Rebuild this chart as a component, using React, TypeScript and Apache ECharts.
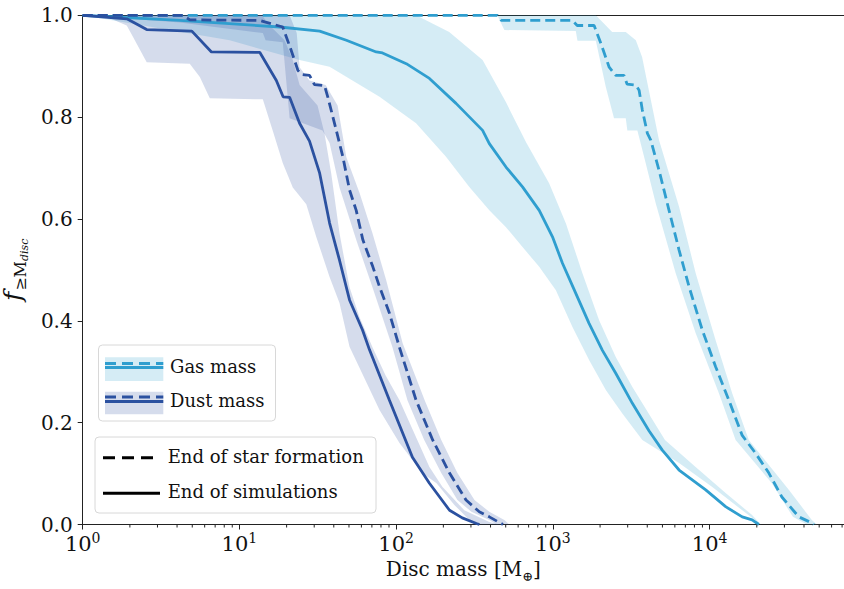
import React, { useEffect, useRef } from "react";
import * as echarts from "echarts";

type Pt = [number, number];

// ---------- data (disc mass [M_earth], fraction >= M) ----------
const gasEndStarFormation: Pt[] = [
  [1, 1], [442, 1], [469, 0.99], [1327, 0.99], [1429, 0.98], [1832, 0.98], [2023, 0.945],
  [2286, 0.898], [2518, 0.882], [2844, 0.882], [2972, 0.865], [3381, 0.863], [3548, 0.853],
  [3720, 0.814], [4009, 0.768], [4210, 0.755], [4753, 0.696], [5508, 0.617], [6383, 0.539],
  [7391, 0.467], [8974, 0.382], [10920, 0.31], [13270, 0.244], [16140, 0.175], [19630, 0.14],
  [23880, 0.101], [28910, 0.054], [37070, 0.015], [44870, 0.003], [46130, 0],
];
const gasEndSimulations: Pt[] = [
  [1, 1], [4.17, 0.99], [18.1, 0.977], [32.5, 0.969], [48.1, 0.951], [74.6, 0.928], [81.8, 0.926],
  [116, 0.905], [163, 0.876], [241, 0.827], [356, 0.774], [393, 0.748], [502, 0.702], [640, 0.663],
  [818, 0.617], [994, 0.565], [1151, 0.513], [1400, 0.454], [1701, 0.395], [2070, 0.342],
  [2518, 0.297], [3214, 0.238], [4102, 0.184], [4989, 0.146], [6383, 0.107], [9440, 0.068],
  [12650, 0.035], [16140, 0.015], [18670, 0.009], [20600, 0],
];
const dustEndStarFormation: Pt[] = [
  [1, 1], [4.35, 1], [4.83, 0.991], [13.5, 0.99], [14.5, 0.987], [18.9, 0.977], [21.4, 0.931],
  [23.6, 0.892], [24.8, 0.884], [28.0, 0.882], [30.1, 0.864], [34.9, 0.862], [36.6, 0.84],
  [41.5, 0.774], [45.7, 0.722], [50.4, 0.657], [55.6, 0.617], [61.3, 0.559], [71.0, 0.506],
  [78.3, 0.467], [90.6, 0.415], [104.7, 0.349], [134, 0.244], [171, 0.166], [219, 0.101],
  [279, 0.048], [339, 0.025], [393, 0.015], [467, 0.002], [480, 0],
];
const dustEndSimulations: Pt[] = [
  [1, 1], [1.91, 0.993], [2.09, 0.987], [2.56, 0.972], [4.97, 0.969], [6.63, 0.928], [13.5, 0.927],
  [17.2, 0.872], [19.0, 0.84], [20.9, 0.839], [24.2, 0.788], [28.0, 0.753], [32.5, 0.69],
  [37.6, 0.592], [43.5, 0.519], [50.4, 0.441], [61.0, 0.382], [67.6, 0.343], [90.6, 0.244],
  [127, 0.132], [163, 0.081], [219, 0.028], [264, 0.013], [325, 0.002], [340, 0],
];

// shaded ranges: upper (right) and lower (left) edges
const gasSimUpper: Pt[] = [
  [1, 1], [134, 1], [218, 0.967], [356, 0.912], [502, 0.829], [673, 0.751], [946, 0.67],
  [1211, 0.591], [1545, 0.493], [1972, 0.401], [2518, 0.329], [3214, 0.27], [5190, 0.166],
  [8140, 0.113], [12650, 0.062], [18580, 0.019], [21230, 0],
];
const gasSimLower: Pt[] = [
  [1, 1], [8.67, 0.951], [24.2, 0.912], [37.6, 0.899], [78.3, 0.84], [134, 0.788], [208, 0.722],
  [293, 0.663], [393, 0.617], [502, 0.584], [640, 0.545], [818, 0.506], [1045, 0.46], [1333, 0.388],
  [1702, 0.323], [2176, 0.264], [2774, 0.218], [3720, 0.166], [6383, 0.121], [10350, 0.074],
  [16940, 0.023], [19630, 0.008], [20600, 0],
];
const gasSFUpper: Pt[] = [
  [1, 1], [1879, 1], [2388, 0.967], [2917, 0.967], [3381, 0.951], [3707, 0.918], [4753, 0.755],
  [6383, 0.624], [8140, 0.494], [10920, 0.362], [13930, 0.258], [17780, 0.166], [31990, 0.068],
  [44870, 0.009], [48310, 0],
];
const gasSFLower: Pt[] = [
  [1, 1], [442, 1], [490, 0.971], [1400, 0.969], [1435, 0.95], [1879, 0.95], [2176, 0.859],
  [2455, 0.798], [2917, 0.798], [2985, 0.774], [3459, 0.774], [3818, 0.722], [4529, 0.631],
  [6067, 0.494], [8140, 0.376], [11460, 0.258], [14650, 0.166], [24950, 0.081], [34000, 0.015],
  [41690, 0],
];
const dustSimUpper: Pt[] = [
  [1, 1], [13.9, 1], [15.6, 0.98], [19.4, 0.951], [21.9, 0.912], [24.2, 0.863], [31.5, 0.823],
  [34.9, 0.768], [38.5, 0.69], [43.5, 0.572], [50.4, 0.466], [58.4, 0.407], [70.6, 0.348],
  [85.5, 0.293], [105, 0.244], [163, 0.113], [197, 0.074], [272, 0.028], [393, 0.005], [455, 0],
];
const dustSimLower: Pt[] = [
  [1, 1], [1.49, 0.994], [1.91, 0.98], [2.1, 0.957], [2.56, 0.908], [4.82, 0.905], [5.59, 0.879],
  [6.47, 0.837], [14.1, 0.835], [16.3, 0.774], [18.9, 0.71], [21.9, 0.662], [26.7, 0.629],
  [30.9, 0.565], [37.6, 0.486], [43.5, 0.435], [50.4, 0.349], [78.3, 0.225], [105, 0.16],
  [147, 0.101], [181, 0.081], [236, 0.038], [293, 0.009], [316, 0],
];
const dustSFUpper: Pt[] = [
  [1, 1], [20.9, 1], [23.2, 0.965], [24.2, 0.898], [28, 0.872], [35.5, 0.863], [42.3, 0.823],
  [48.1, 0.721], [58.4, 0.651], [70.6, 0.572], [86.3, 0.48], [110, 0.356], [152, 0.244],
  [194, 0.166], [246, 0.101], [316, 0.048], [393, 0.025], [490, 0.009], [527, 0],
];
const dustSFLower: Pt[] = [
  [1, 1], [4.17, 0.986], [14.1, 0.965], [14.7, 0.951], [18.9, 0.947], [20.9, 0.798], [33.9, 0.774],
  [37.6, 0.749], [43.5, 0.662], [55.6, 0.559], [70.6, 0.466], [94.7, 0.348], [118, 0.244],
  [151, 0.166], [194, 0.101], [246, 0.048], [302, 0.025], [393, 0.009], [436, 0],
];

const xMinorTicks: number[] = [
  2, 3, 4, 5, 6, 7, 8, 9,
  20, 30, 40, 50, 60, 70, 80, 90,
  200, 300, 400, 500, 600, 700, 800, 900,
  2000, 3000, 4000, 5000, 6000, 7000, 8000, 9000,
  20000, 30000, 40000, 50000, 60000, 70000,
];

const X_MIN = 1;
const X_MAX = 72000;

const GAS = "#2f9ecf";
const DUST = "#2b51a0";
const GAS_FILL = "rgba(47,158,207,0.2)";
const DUST_FILL = "rgba(43,81,160,0.2)";
const FONT = "DejaVu Serif";
const INK = "#111";
const SPINE = "#222";

function band(upper: Pt[], lower: Pt[], fill: string) {
  const poly = [...upper, ...lower.slice().reverse()];
  return {
    type: "custom",
    coordinateSystem: "cartesian2d",
    data: poly,
    silent: true,
    z: 1,
    encode: { x: 0, y: 1 },
    renderItem: (params: any, api: any) => {
      if (params.dataIndexInside !== 0) return null;
      const n = params.dataInsideLength;
      const pts: number[][] = [];
      for (let i = 0; i < n; i++) {
        pts.push(api.coord([api.value(0, i), api.value(1, i)]));
      }
      return { type: "polygon", shape: { points: pts }, style: { fill } };
    },
  };
}

function line(data: Pt[], color: string, dashed: boolean) {
  return {
    type: "line",
    data,
    symbol: "none",
    showSymbol: false,
    silent: true,
    z: 3,
    lineStyle: { color, width: 2.8, type: dashed ? [10, 5] : "solid", cap: "butt" },
  };
}

function txt(text: string, x: number, y: number, size: number) {
  return {
    type: "text",
    z: 100,
    style: {
      text, x, y, fill: INK, fontSize: size, fontFamily: FONT,
      align: "left", verticalAlign: "middle", textAlign: "left", textVerticalAlign: "middle",
    },
  };
}
function seg(x1: number, x2: number, y: number, color: string, dash: number[] | null) {
  return {
    type: "line",
    z: 100,
    shape: { x1, y1: y, x2, y2: y },
    style: { stroke: color, lineWidth: 3, lineDash: dash || undefined },
  };
}
function box(x: number, y: number, w: number, h: number) {
  return {
    type: "rect",
    z: 99,
    shape: { x, y, width: w, height: h, r: 4 },
    style: { fill: "rgba(255,255,255,0.85)", stroke: "#d8d8d8", lineWidth: 1 },
  };
}
function patch(x: number, y: number, w: number, h: number, fill: string) {
  return { type: "rect", z: 100, shape: { x, y, width: w, height: h }, style: { fill } };
}

export default function App() {
  const ref = useRef<HTMLDivElement>(null);
  useEffect(() => {
    if (!ref.current) return;
    const chart = echarts.init(ref.current, null, { renderer: "svg" });
    const option: any = {
      animation: false,
      backgroundColor: "#fff",
      textStyle: { fontFamily: FONT },
      grid: { left: 82.7, right: 0, top: 15.3, bottom: 64.5, containLabel: false, outerBoundsMode: "none" },
      xAxis: [
        {
          type: "log",
          logBase: 10,
          min: X_MIN,
          max: X_MAX,
          splitLine: { show: false },
          axisLine: { show: true, onZero: false, lineStyle: { color: SPINE, width: 1 } },
          axisTick: { show: true, inside: false, length: 5, lineStyle: { color: SPINE } },
          minorTick: { show: false },
          axisLabel: {
            showMaxLabel: false,
            margin: 8,
            fontFamily: FONT,
            formatter: (v: number) => {
              const e = Math.round(Math.log10(v));
              if (Math.abs(v - Math.pow(10, e)) > 1e-6 * v) return "";
              return `{b|10}{e|${e}}`;
            },
            rich: {
              b: { fontSize: 21, lineHeight: 22, fontFamily: FONT, color: INK, verticalAlign: "bottom" },
              e: { fontSize: 14, lineHeight: 14, fontFamily: FONT, color: INK, verticalAlign: "bottom", padding: [0, 0, 10, 0] },
            },
          },
          name: "{n|Disc mass [M}{s|⊕}{n|]}",
          nameLocation: "middle",
          nameGap: 33,
          nameTextStyle: {
            fontFamily: FONT,
            rich: {
              n: { fontSize: 20, lineHeight: 22, fontFamily: FONT, color: INK, verticalAlign: "bottom", padding: [0, 0, 4, 0] },
              s: { fontSize: 13, lineHeight: 14, fontFamily: FONT, color: INK, verticalAlign: "bottom" },
            },
          },
        },
        {
          type: "log",
          logBase: 10,
          min: X_MIN,
          max: X_MAX,
          position: "top",
          splitLine: { show: false },
          axisLine: { show: true, onZero: false, lineStyle: { color: SPINE, width: 1 } },
          axisTick: { show: false },
          axisLabel: { show: false },
        },
      ],
      yAxis: {
        type: "value",
        min: 0,
        max: 1,
        interval: 0.2,
        splitLine: { show: false },
        axisLine: { show: true, onZero: false, lineStyle: { color: SPINE, width: 1 } },
        axisTick: { show: true, inside: false, length: 5, lineStyle: { color: SPINE } },
        axisLabel: {
          margin: 10,
          fontSize: 20,
          fontFamily: FONT,
          color: INK,
          formatter: (v: number) => v.toFixed(1),
        },
        name: "{f|f}{s|≥M}{d|disc}",
        nameLocation: "middle",
        nameGap: 37,
        nameRotate: 90,
        nameTextStyle: {
          fontFamily: FONT,
          rich: {
            f: { fontSize: 25, lineHeight: 25, fontFamily: FONT, fontStyle: "italic", color: INK, verticalAlign: "bottom", padding: [0, 1, 5, 0] },
            s: { fontSize: 16, lineHeight: 16, fontFamily: FONT, color: INK, verticalAlign: "bottom", padding: [0, 0, 1, 0] },
            d: { fontSize: 11, lineHeight: 11, fontFamily: FONT, fontStyle: "italic", color: INK, verticalAlign: "bottom" },
          },
        },
      },
      series: [
        band(gasSimUpper, gasSimLower, GAS_FILL),
        band(gasSFUpper, gasSFLower, GAS_FILL),
        band(dustSimUpper, dustSimLower, DUST_FILL),
        band(dustSFUpper, dustSFLower, DUST_FILL),
        line(gasEndSimulations, GAS, false),
        line(gasEndStarFormation, GAS, true),
        line(dustEndSimulations, DUST, false),
        line(dustEndStarFormation, DUST, true),
        {
          type: "custom",
          coordinateSystem: "cartesian2d",
          data: xMinorTicks.map((v) => [v, 0]),
          silent: true,
          clip: false,
          z: 5,
          renderItem: (params: any, api: any) => {
            const p = api.coord([api.value(0), api.value(1)]);
            return {
              type: "line",
              shape: { x1: p[0], y1: p[1], x2: p[0], y2: p[1] + 3 },
              style: { stroke: SPINE, lineWidth: 1 },
            };
          },
        },
      ],
      graphic: [
        box(98.5, 345, 177, 76),
        patch(105, 357.3, 58.3, 23.7, GAS_FILL),
        seg(105, 163.3, 363.5, GAS, [11, 6]),
        seg(105, 163.3, 367.5, GAS, null),
        txt("Gas mass", 170, 366, 18),
        patch(105, 391.7, 58.3, 22.6, DUST_FILL),
        seg(105, 163.3, 397, DUST, [11, 6]),
        seg(105, 163.3, 401.5, DUST, null),
        txt("Dust mass", 170, 400, 18),
        box(95, 437, 281, 76),
        seg(103, 160, 457.7, "#000", [12, 7]),
        seg(103, 160, 493.3, "#000", null),
        txt("End of star formation", 167.7, 456.5, 18),
        txt("End of simulations", 167.7, 491, 18),
      ],
    };
    chart.setOption(option);
    return () => chart.dispose();
  }, []);
  return (
    <div
      ref={ref}
      style={{ position: "fixed", left: 0, top: 0, width: 844, height: 589, background: "#fff" }}
    />
  );
}
